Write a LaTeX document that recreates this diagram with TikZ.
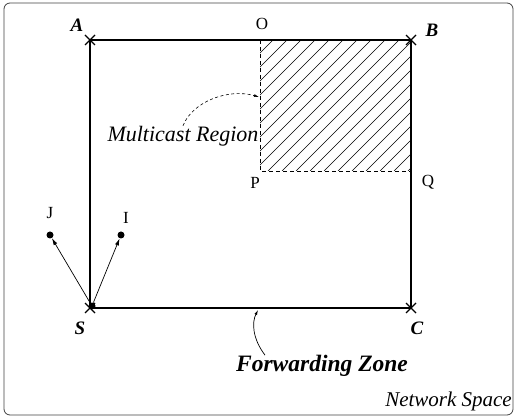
\documentclass[tikz,border=0pt]{standalone}
\usepackage{fontspec}
\setmainfont{Liberation Serif}
\usetikzlibrary{arrows.meta}

\tikzset{
  ecke/.style={font=\fontsize{19}{21}\selectfont\bfseries\itshape},
  punkt/.style={font=\fontsize{17}{19}\selectfont},
  knoten/.style={circle, fill=black, inner sep=0pt, minimum size=7pt},
  gitter/.style={dashed, dash pattern=on 4pt off 3pt, line width=0.7pt},
  pfeil/.style={-{Latex[length=7pt, width=4pt]}, line width=0.7pt}
}

\begin{document}
\begin{tikzpicture}[x=1pt, y=-1pt]
    \useasboundingbox (0,0) rectangle (516,419);
    % Rahmen
    \draw[black!75, line width=0.8pt, rounded corners=6pt] (4,3) rectangle (513,415);
    % Eckpunkte
    \coordinate (A) at (90,40);
    \coordinate (B) at (411,40);
    \coordinate (C) at (411,308);
    \coordinate (S) at (90,308);
    \coordinate (O) at (260,40);
    \coordinate (P) at (260,171);
    \coordinate (Q) at (411,171);
    % schraffierte Region
    \begin{scope}
      \clip (O) rectangle (Q);
      \foreach \x in {-124,-110,...,420}
        \draw[line width=0.6pt] (\x,171) -- ++(131,-131);
    \end{scope}
    \draw[gitter] (O) -- (P) -- (Q);
    % Forwarding Zone
    \draw[line width=1.8pt] (A) -- (B) -- (C) -- (S) -- cycle;
    \foreach \p in {A,B,C,S}
      \draw[line width=1.3pt] (\p) ++(-5,-5) -- ++(10,10) (\p) ++(-5,5) -- ++(10,-10);
    % Knoten
    \node[knoten] (s) at (92,306) {};
    \node[knoten] (j) at (50,235) {};
    \node[knoten] (i) at (121,235) {};
    \draw[pfeil] (s) -- (j);
    \draw[pfeil] (s) -- (i);
    % Beschriftungen
    \node[ecke] (lA) at (77,25) {A};
    \node[ecke] (lB) at (432,30) {B};
    \node[ecke] (lS) at (80,328) {S};
    \node[ecke] (lC) at (417,328) {C};
    \node[punkt] (lO) at (262,24) {O};
    \node[punkt] (lP) at (255,183) {P};
    \node[punkt] (lQ) at (428,182) {Q};
    \node[punkt] (lJ) at (50,213) {J};
    \node[punkt] (lI) at (126,218) {I};
    \node[font=\fontsize{22}{24}\selectfont\itshape, inner sep=0pt] (mr) at (183,136) {Multicast Region};
    \node[font=\fontsize{23.5}{26}\selectfont\bfseries\itshape, inner sep=0pt] (fz) at (322,366) {Forwarding Zone};
    \node[font=\fontsize{21}{23}\selectfont\itshape, anchor=east, inner sep=0pt] (ns) at (512,401) {Network Space};
    % Hinweispfeile
    \coordinate (mrZiel) at (259,97);
    \coordinate (fzZiel) at (258,310);
    \draw[-{Latex[length=5pt, width=3pt]}, dashed, dash pattern=on 3pt off 2.5pt, line width=0.6pt]
      (mr.north) .. controls (192,102) and (228,88) .. (mrZiel);
    \draw[-{Latex[length=5pt, width=3pt]}, line width=0.7pt]
      ([xshift=-57pt]fz.north) .. controls (252,338) and (252,322) .. (fzZiel);
  \end{tikzpicture}
\end{document}
